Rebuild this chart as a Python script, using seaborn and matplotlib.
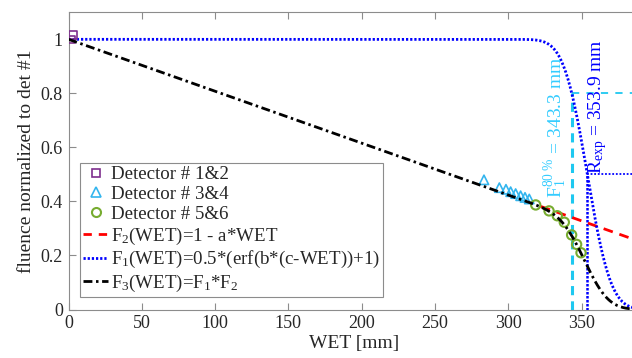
import math
import numpy as np
import pandas as pd
import matplotlib
matplotlib.use("Agg")
import matplotlib.pyplot as plt
from matplotlib.ticker import FuncFormatter
from matplotlib.lines import Line2D
import seaborn as sns

# ---- data ----
det12_wet = [1.8, 3.2]
det12_flu = [0.999, 1.017]

det34_wet = [283.4, 293.9, 298.4, 301.6, 305.0, 308.4, 311.4, 314.3]
det34_flu = [0.480, 0.451, 0.445, 0.436, 0.429, 0.421, 0.415, 0.409]

det56_wet = [318.7, 327.8, 333.4, 338.2, 343.2, 346.6, 349.6]
det56_flu = [0.387, 0.365, 0.347, 0.323, 0.276, 0.241, 0.210]

# fit parameters
a_par = 0.00192
c_par = 353.9          # R_exp
f80 = 343.3            # F1 80 %
b_par = 0.5951 / (c_par - f80)
f2_visible_from = 322  # red line hidden below the black one before this

x_ticks = [0, 50, 100, 150, 200, 250, 300, 350]
y_ticks = [0, 0.2, 0.4, 0.6, 0.8, 1.0]

# ---- style ----
sns.set_style("ticks")
plt.rcParams["font.family"] = ["Liberation Serif", "DejaVu Serif"]
plt.rcParams["mathtext.fontset"] = "custom"
plt.rcParams["mathtext.rm"] = "Liberation Serif"
plt.rcParams["mathtext.it"] = "Liberation Serif:italic"
plt.rcParams["mathtext.default"] = "regular"

fig = plt.figure(figsize=(6.32, 3.58), dpi=100)
ax_left = 68.5 / 632
ax_bottom = 1 - 309.5 / 358
ax_h = (309.5 - 12.3) / 358
x_max = 390
ax_w = x_max * 1.466 / 632
ax = fig.add_axes([ax_left, ax_bottom, ax_w, ax_h])

wet = np.linspace(0, x_max, 800)
F2 = 1 - a_par * wet
F1 = 0.5 * (np.array([math.erf(b_par * (c_par - w)) for w in wet]) + 1)
F3 = F1 * F2
curves = pd.DataFrame({"WET": wet, "F1": F1, "F2": F2, "F3": F3})
curves_f2 = curves[curves["WET"] >= f2_visible_from]

# reference lines
ax.plot([f80, f80], [0, 0.8], color="#1EC8F0", lw=2.2, ls=(0, (3, 2)), zorder=2)
ax.plot([f80, x_max], [0.8, 0.8], color="#1EC8F0", lw=1.3, ls=(0, (4, 4)), zorder=2)
ax.plot([c_par, c_par], [0, 0.5], color="#0000FF", lw=1.8, ls=(0, (1, 0.6)), zorder=2)
ax.plot([c_par, x_max], [0.5, 0.5], color="#0000FF", lw=1.3, ls=(0, (1, 1)), zorder=2)

# fit curves
sns.lineplot(data=curves_f2, x="WET", y="F2", ax=ax, color="#FF0000", lw=2,
             zorder=3).lines[-1].set_dashes((3.5, 2.5))
sns.lineplot(data=curves, x="WET", y="F1", ax=ax, color="#0000FF", lw=2,
             zorder=3).lines[-1].set_dashes((0.8, 0.7))

# detector points
sns.scatterplot(x=det12_wet, y=det12_flu, ax=ax, marker="s", s=30,
                facecolor="none", edgecolor="#7E2F8E", linewidth=1.2, zorder=4)
sns.scatterplot(x=det34_wet, y=det34_flu, ax=ax, marker="^", s=45,
                facecolor="none", edgecolor="#33B5EE", linewidth=1.2, zorder=4)
sns.scatterplot(x=det56_wet, y=det56_flu, ax=ax, marker="o", s=45,
                facecolor="none", edgecolor="#77AC30", linewidth=1.5, zorder=4)
sns.lineplot(data=curves, x="WET", y="F3", ax=ax, color="black", lw=2,
             zorder=5).lines[-1].set_dashes((3.2, 1.3, 0.9, 1.3))

# legend
h12 = Line2D([], [], ls="none", marker="s", ms=5.5, mfc="none", mec="#7E2F8E", mew=1.2)
h34 = Line2D([], [], ls="none", marker="^", ms=6.5, mfc="none", mec="#33B5EE", mew=1.2)
h56 = Line2D([], [], ls="none", marker="o", ms=6.5, mfc="none", mec="#77AC30", mew=1.5)
hf2 = Line2D([], [], color="#FF0000", lw=2, dashes=(3, 2.5))
hf1 = Line2D([], [], color="#0000FF", lw=2, dashes=(0.8, 0.7))
hf3 = Line2D([], [], color="black", lw=2, dashes=(3.2, 1.3, 0.9, 1.3))
labels = ["Detector # 1&2", "Detector # 3&4", "Detector # 5&6",
          r"F$_2$(WET)=1 - a*WET",
          r"F$_1$(WET)=0.5*(erf(b*(c-WET))+1)",
          r"F$_3$(WET)=F$_1$*F$_2$"]
leg = ax.legend([h12, h34, h56, hf2, hf1, hf3], labels, loc="lower left",
                bbox_to_anchor=((80 - 68.5) / (x_max * 1.466), (309.5 - 297) / 297.2),
                borderaxespad=0, fontsize=13.6, handlelength=1.35, handletextpad=0.12,
                borderpad=0.15, labelspacing=0.14, fancybox=False, framealpha=1,
                edgecolor="#8C8C8C")
leg.get_frame().set_linewidth(0.8)

# annotations
ax.text(332.5, 0.674, r"F$_1^{80\ \%}$ = 343.3 mm", rotation=90, color="#33CCFF",
        fontsize=14, ha="center", va="center")
ax.text(361.0, 0.752, r"R$_{exp}$ = 353.9 mm", rotation=90, color="#0000FF",
        fontsize=14, ha="center", va="center")

# axes
ax.set_xlim(0, x_max)
ax.set_ylim(0, 1.1)
ax.set_xticks(x_ticks)
ax.set_yticks(y_ticks)
ax.yaxis.set_major_formatter(FuncFormatter(lambda v, p: f"{v:g}"))
ax.set_xlabel("WET [mm]", fontsize=14, labelpad=2)
ax.set_ylabel("fluence normalized to det #1", fontsize=14, labelpad=4)
ax.tick_params(axis="both", direction="in", labelsize=13, length=5, width=0.8,
               color="#8C8C8C", top=True, right=True, pad=4)
for sp in ax.spines.values():
    sp.set_color("#8C8C8C")
    sp.set_linewidth(0.8)

fig.savefig("out.png", dpi=100)
